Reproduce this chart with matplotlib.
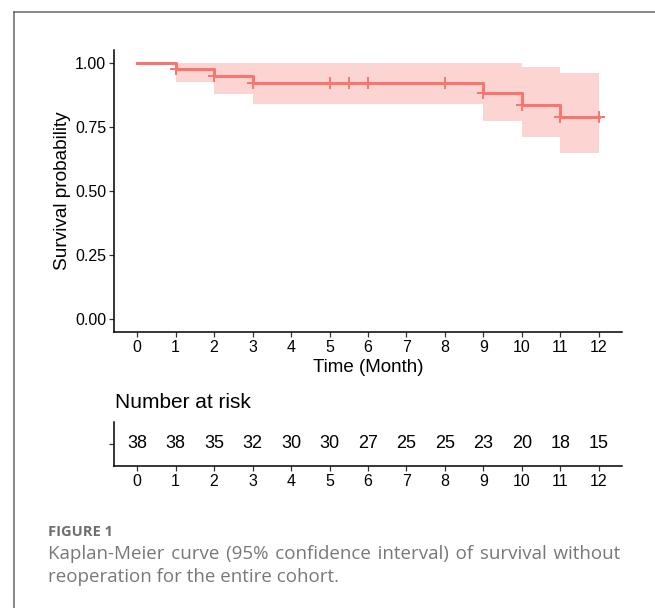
import matplotlib
matplotlib.use("Agg")
import matplotlib.pyplot as plt
from matplotlib.lines import Line2D

# Kaplan-Meier estimate
step_times = [0, 1, 2, 3, 9, 10, 11, 12]
surv = [1.0, 0.974, 0.947, 0.921, 0.881, 0.837, 0.790, 0.790]
upper = [1.0, 1.0, 1.0, 1.0, 1.0, 0.985, 0.962, 0.962]
lower = [1.0, 0.924, 0.879, 0.839, 0.775, 0.711, 0.649, 0.649]

censor_times = [1, 2, 3, 5, 5.5, 6, 8, 9, 10, 11, 12]
censor_surv = [0.974, 0.947, 0.921, 0.921, 0.921, 0.921, 0.921, 0.881, 0.837, 0.790, 0.790]

risk_times = list(range(13))
n_at_risk = [38, 38, 35, 32, 30, 30, 27, 25, 25, 23, 20, 18, 15]

y_ticks = [0.0, 0.25, 0.5, 0.75, 1.0]
y_ticklabels = ["0.00", "0.25", "0.50", "0.75", "1.00"]

caption_head = "FIGURE 1"
caption_line1 = "Kaplan-Meier curve (95% confidence interval) of survival without"
caption_line2 = "reoperation for the entire cohort."

RED = "#F8766D"
W, H = 655, 608
plt.rcParams["font.family"] = ["Liberation Sans", "DejaVu Sans"]

fig = plt.figure(figsize=(W / 100, H / 100), dpi=100)

def fx(px):
    return px / W

def fy(py):
    return 1 - py / H

# outer frame (top and left edges only)
fig.add_artist(Line2D([fx(14), 1.0], [fy(11.5), fy(11.5)], color="#666666", lw=1.1))
fig.add_artist(Line2D([fx(14), fx(14)], [fy(11.5), 0.0], color="#666666", lw=1.1))

# --- survival curve ---
ax = fig.add_axes([fx(114), fy(332), fx(622) - fx(114), fy(50) - fy(332)])
ax.fill_between(step_times, lower, upper, step="post", color=RED, alpha=0.3, lw=0)
ax.step(step_times, surv, where="post", color=RED, lw=2.2)
ax.plot(censor_times, censor_surv, ls="none", marker="+", ms=9, mew=1.4, color=RED)

ax.set_xlim(-0.6, 12.6)
ax.set_ylim(-0.05, 1.05)
ax.set_xticks(risk_times)
ax.set_yticks(y_ticks)
ax.set_yticklabels(y_ticklabels)
for s in ["top", "right"]:
    ax.spines[s].set_visible(False)
for s in ["left", "bottom"]:
    ax.spines[s].set_linewidth(1.1)
ax.tick_params(length=3.5, width=0.9, color="#333333", labelsize=11.5, pad=2)
ax.set_xlabel("Time (Month)", fontsize=13.5, labelpad=3)
ax.set_ylabel("Survival probability", fontsize=13.7, labelpad=3)

# --- number at risk table ---
fig.text(fx(115), fy(402), "Number at risk", fontsize=15, va="center", ha="left")
tab = fig.add_axes([fx(114), fy(466), fx(622) - fx(114), fy(422) - fy(466)])
tab.set_xlim(-0.6, 12.6)
tab.set_ylim(0, 1)
for t, n in zip(risk_times, n_at_risk):
    tab.text(t, 0.5, str(n), ha="center", va="center", fontsize=13)
tab.set_xticks(risk_times)
tab.set_yticks([0.5])
tab.set_yticklabels([""])
for s in ["top", "right"]:
    tab.spines[s].set_visible(False)
for s in ["left", "bottom"]:
    tab.spines[s].set_linewidth(1.1)
tab.tick_params(length=3.5, width=0.9, color="#333333", labelsize=11.5, pad=2)

# --- caption ---
cap_font = ["Open Sans", "DejaVu Sans"]
cap_size = 13.5
fig.text(fx(48), fy(536), caption_head, fontsize=10.5, fontweight="bold",
         color="#6e6e6e", family=cap_font, va="baseline")

fig.canvas.draw()
renderer = fig.canvas.get_renderer()

def text_width(s):
    t = fig.text(0, 0, s, fontsize=cap_size, family=cap_font)
    w = t.get_window_extent(renderer).width
    t.remove()
    return w

# first line justified between x=48 and x=622 by padding gaps with hair spaces
words = caption_line1.split()
base_w = text_width(caption_line1)
hair = "\u200a"
hair_w = text_width("a" + hair * 10 + "a") - text_width("aa")
hair_w /= 10
extra = (622 - 48 - base_w) / (len(words) - 1)
k = max(0, int(round(extra / hair_w))) if hair_w > 0 else 0
justified = (" " + hair * k).join(words)

fig.text(fx(48), fy(559), justified, fontsize=cap_size, color="#787878",
         family=cap_font, va="baseline")
fig.text(fx(48), fy(582), caption_line2, fontsize=cap_size, color="#787878",
         family=cap_font, va="baseline")

fig.savefig("out.png", dpi=100)
